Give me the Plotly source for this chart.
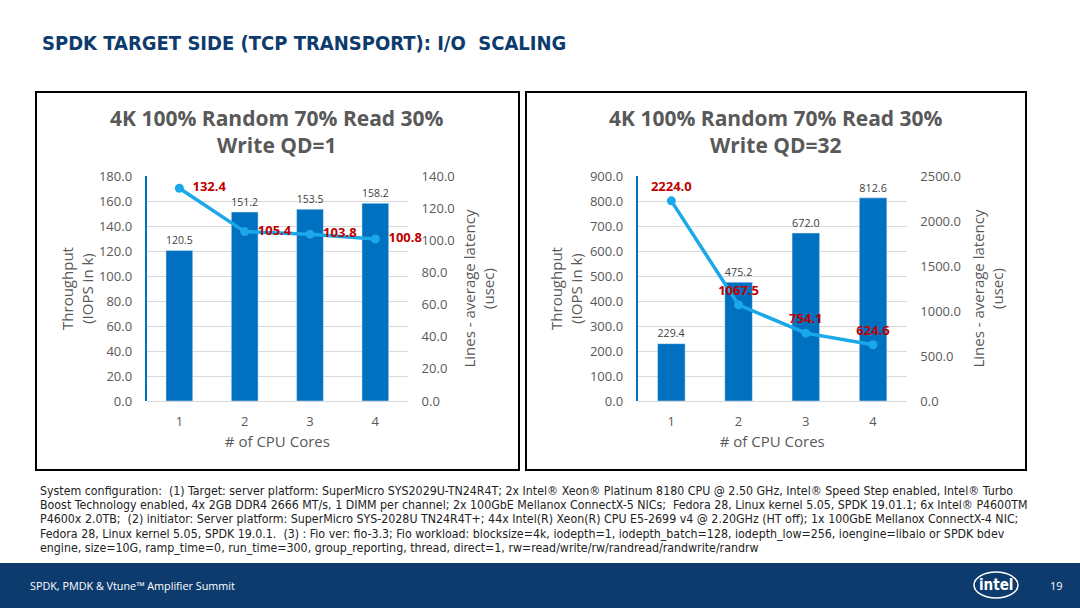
import plotly.graph_objects as go

# ---------------- data ----------------
cores = ["1", "2", "3", "4"]
qd1_iops = [120.5, 151.2, 153.5, 158.2]
qd1_lat = [132.4, 105.4, 103.8, 100.8]
qd32_iops = [229.4, 475.2, 672.0, 812.6]
qd32_lat = [2224.0, 1067.5, 754.1, 624.6]

slide_title = "SPDK TARGET SIDE (TCP TRANSPORT): I/O  SCALING"
chart_titles = ["4K 100% Random 70% Read 30%<br>Write QD=1",
                "4K 100% Random 70% Read 30%<br>Write QD=32"]
footer_lines = [
    "System configuration:  (1) Target: server platform: SuperMicro SYS2029U-TN24R4T; 2x Intel® Xeon® Platinum 8180 CPU @ 2.50 GHz, Intel® Speed Step enabled, Intel® Turbo",
    "Boost Technology enabled, 4x 2GB DDR4 2666 MT/s, 1 DIMM per channel; 2x 100GbE Mellanox ConnectX-5 NICs;  Fedora 28, Linux kernel 5.05, SPDK 19.01.1; 6x Intel® P4600TM",
    "P4600x 2.0TB;  (2) initiator: Server platform: SuperMicro SYS-2028U TN24R4T+; 44x Intel(R) Xeon(R) CPU E5-2699 v4 @ 2.20GHz (HT off); 1x 100GbE Mellanox ConnectX-4 NIC;",
    "Fedora 28, Linux kernel 5.05, SPDK 19.0.1.  (3) : Fio ver: fio-3.3; Fio workload: blocksize=4k, iodepth=1, iodepth_batch=128, iodepth_low=256, ioengine=libaio or SPDK bdev",
    "engine, size=10G, ramp_time=0, run_time=300, group_reporting, thread, direct=1, rw=read/write/rw/randread/randwrite/randrw",
]

W, H = 1080, 608
def px(x): return x / W
def py(y): return 1 - y / H

BAR = "#0070C0"
LINE = "#1BA8E8"
RED = "#C00000"
GREY = "#595959"
GRID = "#D9D9D9"
NAVY = "#0D3B6E"
FONT = "Open Sans"
COND = "DejaVu Sans Condensed"

fig = go.Figure()

def add_chart(iops, lat, xa, ya, ya2, lat_pos, prefix):
    fig.add_trace(go.Bar(
        x=cores, y=iops, xaxis=xa, yaxis=ya, marker_color=BAR,
        text=[f"{v:.1f}" for v in iops], textposition="outside",
        textfont=dict(size=13, color="#404040", family=FONT),
        cliponaxis=False, showlegend=False))
    fig.add_trace(go.Scatter(
        x=cores, y=lat, xaxis=xa, yaxis=ya2, mode="lines+markers+text",
        line=dict(color=LINE, width=3.5), marker=dict(size=9, color=LINE),
        text=[f"{prefix}<b>{v:.1f}</b>" for v in lat], textposition=lat_pos,
        textfont=dict(size=13, color=RED, family=FONT),
        cliponaxis=False, showlegend=False))

add_chart(qd1_iops, qd1_lat, "x", "y", "y2", "middle right", "\u2002")
add_chart(qd32_iops, qd32_lat, "x2", "y3", "y4", "top center", "")

tickfont = dict(size=13, color=GREY, family=FONT)
titlefont = dict(size=15, color=GREY, family=FONT)

def xaxis(dom, anchor):
    return dict(domain=dom, anchor=anchor, type="category", tickfont=tickfont,
                ticks="outside", ticklen=8, tickcolor="rgba(0,0,0,0)",
                showline=False, showgrid=False, automargin=False,
                title=dict(text="# of CPU Cores", font=titlefont, standoff=7))

def yaxis(dom, anchor, rng, dt, title, so):
    return dict(domain=dom, anchor=anchor, range=rng, dtick=dt, tickformat=".1f",
                tickfont=tickfont, ticks="outside", ticklen=10,
                tickcolor="rgba(0,0,0,0)", gridcolor=GRID, gridwidth=1,
                zeroline=True, zerolinecolor=GRID, zerolinewidth=1,
                showline=True, linecolor=BAR, linewidth=2, automargin=False,
                title=dict(text=title, font=titlefont, standoff=so))

def yaxis2(overlay, anchor, rng, dt, title, so):
    return dict(overlaying=overlay, anchor=anchor, side="right", range=rng,
                dtick=dt, tickformat=".1f", tickfont=tickfont, ticks="outside",
                ticklen=10, tickcolor="rgba(0,0,0,0)", showgrid=False,
                zeroline=False, showline=False, automargin=False,
                title=dict(text=title, font=titlefont, standoff=so))

ydom = [py(401), py(176)]
fig.update_layout(
    width=W, height=H, margin=dict(l=0, r=0, t=0, b=0, pad=0, autoexpand=False),
    paper_bgcolor="white", plot_bgcolor="white",
    bargap=0.59, showlegend=False,
    font=dict(family=FONT),
    xaxis=xaxis([px(146.7), px(408)], "y"),
    yaxis=yaxis(ydom, "x", [0, 180], 20, "Throughput<br>(IOPS in k)", 2),
    yaxis2=yaxis2("y", "x", [0, 140], 20, "Lines - average latency<br>(usec)", 10),
    xaxis2=xaxis([px(637.7), px(906.7)], "y3"),
    yaxis3=yaxis(ydom, "x2", [0, 900], 100, "Throughput<br>(IOPS in k)", 4),
    yaxis4=yaxis2("y3", "x2", [0, 2500], 500, "Lines - average latency<br>(usec)", 13),
)

shapes = [
    dict(type="rect", xref="paper", yref="paper", x0=px(36), x1=px(519),
         y0=py(470), y1=py(92), line=dict(color="black", width=2)),
    dict(type="rect", xref="paper", yref="paper", x0=px(526), x1=px(1026),
         y0=py(470), y1=py(92), line=dict(color="black", width=2)),
    dict(type="rect", xref="paper", yref="paper", x0=0, x1=1, y0=0, y1=py(563),
         fillcolor=NAVY, line=dict(width=0), layer="below"),
    dict(type="circle", xref="paper", yref="paper", x0=px(974), x1=px(1018),
         y0=py(598), y1=py(572), line=dict(color="white", width=1.5)),
]

annotations = [
    dict(text="<b>" + slide_title + "</b>", x=px(40), y=py(43), xref="paper", yref="paper",
         xanchor="left", yanchor="middle", showarrow=False,
         font=dict(size=20, color=NAVY, family=COND)),
    dict(text="<b>" + chart_titles[0] + "</b>", x=px(277), y=py(132), xref="paper", yref="paper",
         xanchor="center", yanchor="middle", showarrow=False,
         font=dict(size=21, color=GREY, family=FONT)),
    dict(text="<b>" + chart_titles[1] + "</b>", x=px(776), y=py(132), xref="paper", yref="paper",
         xanchor="center", yanchor="middle", showarrow=False,
         font=dict(size=21, color=GREY, family=FONT)),
    dict(text="SPDK, PMDK &amp; Vtune™ Amplifier Summit", x=px(28), y=py(585), xref="paper", yref="paper",
         xanchor="left", yanchor="middle", showarrow=False,
         font=dict(size=10.8, color="white", family=FONT)),
    dict(text="19", x=px(1056), y=py(585), xref="paper", yref="paper",
         xanchor="center", yanchor="middle", showarrow=False,
         font=dict(size=11, color="white", family=FONT)),
    dict(text="<b>intel</b>", x=px(996), y=py(585), xref="paper", yref="paper",
         xanchor="center", yanchor="middle", showarrow=False,
         font=dict(size=15, color="white", family=COND)),
]
for i, line in enumerate(footer_lines):
    annotations.append(dict(text=line, x=px(38), y=py(491 + i * 14.2), xref="paper", yref="paper",
                            xanchor="left", yanchor="middle", showarrow=False,
                            font=dict(size=12.3, color="#222222", family=COND)))

fig.update_layout(shapes=shapes, annotations=annotations)
fig.write_html("out.html", config={"displayModeBar": False},
               post_script="document.body.style.margin='0px';")
